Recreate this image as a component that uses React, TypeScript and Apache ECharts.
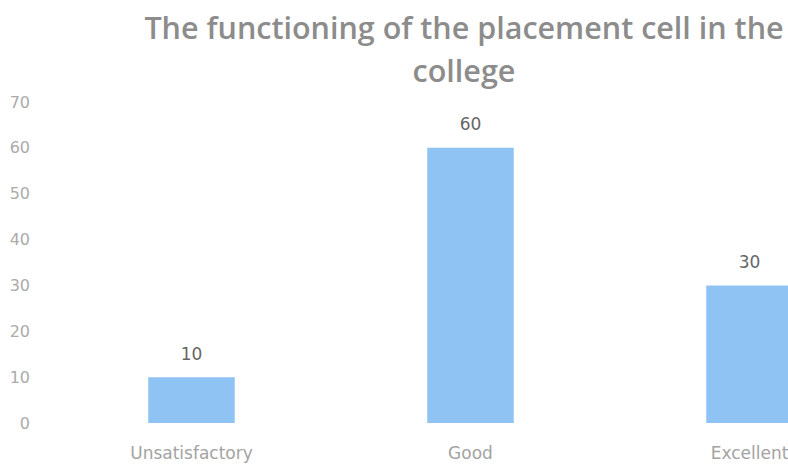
import React, { useEffect, useRef } from "react";
import * as echarts from "echarts";

const categories = ["Unsatisfactory", "Good", "Excellent"];
const values = [10, 60, 30];
const titleText = "The functioning of the placement cell in the\ncollege";

export default function App() {
  const ref = useRef<HTMLDivElement>(null);
  useEffect(() => {
    if (!ref.current) return;
    const chart = echarts.init(ref.current, undefined, { renderer: "svg" });
    chart.setOption({
      animation: false,
      backgroundColor: "#ffffff",
      title: {
        text: titleText,
        left: 459,
        top: 0,
        textAlign: "center",
        textStyle: {
          fontFamily: "Open Sans",
          fontWeight: 600,
          fontSize: 30.5,
          color: "#8c8c8c",
          lineHeight: 43,
        },
      },
      grid: { left: 52, right: 0, top: 102, bottom: 43, containLabel: false },
      xAxis: {
        type: "category",
        data: categories,
        axisLine: { show: false },
        axisTick: { show: false },
        axisLabel: {
          margin: 21,
          fontFamily: "DejaVu Sans",
          fontSize: 17,
          color: "#a3a3a3",
        },
      },
      yAxis: {
        type: "value",
        min: 0,
        max: 70,
        interval: 10,
        splitLine: { show: false },
        axisLine: { show: false },
        axisTick: { show: false },
        axisLabel: {
          margin: 22,
          fontFamily: "DejaVu Sans",
          fontSize: 16,
          color: "#ababab",
        },
      },
      series: [
        {
          type: "bar",
          data: values,
          barWidth: "31%",
          itemStyle: { color: "#8fc3f3" },
          label: {
            show: true,
            position: "top",
            distance: 15,
            fontFamily: "DejaVu Sans",
            fontSize: 17,
            color: "#666666",
          },
        },
      ],
    });
    return () => chart.dispose();
  }, []);
  return (
    <div
      style={{
        position: "fixed",
        left: 0,
        top: 0,
        width: 788,
        height: 466,
        overflow: "hidden",
        background: "#ffffff",
      }}
    >
      <div ref={ref} style={{ width: 889, height: 466 }} />
    </div>
  );
}
